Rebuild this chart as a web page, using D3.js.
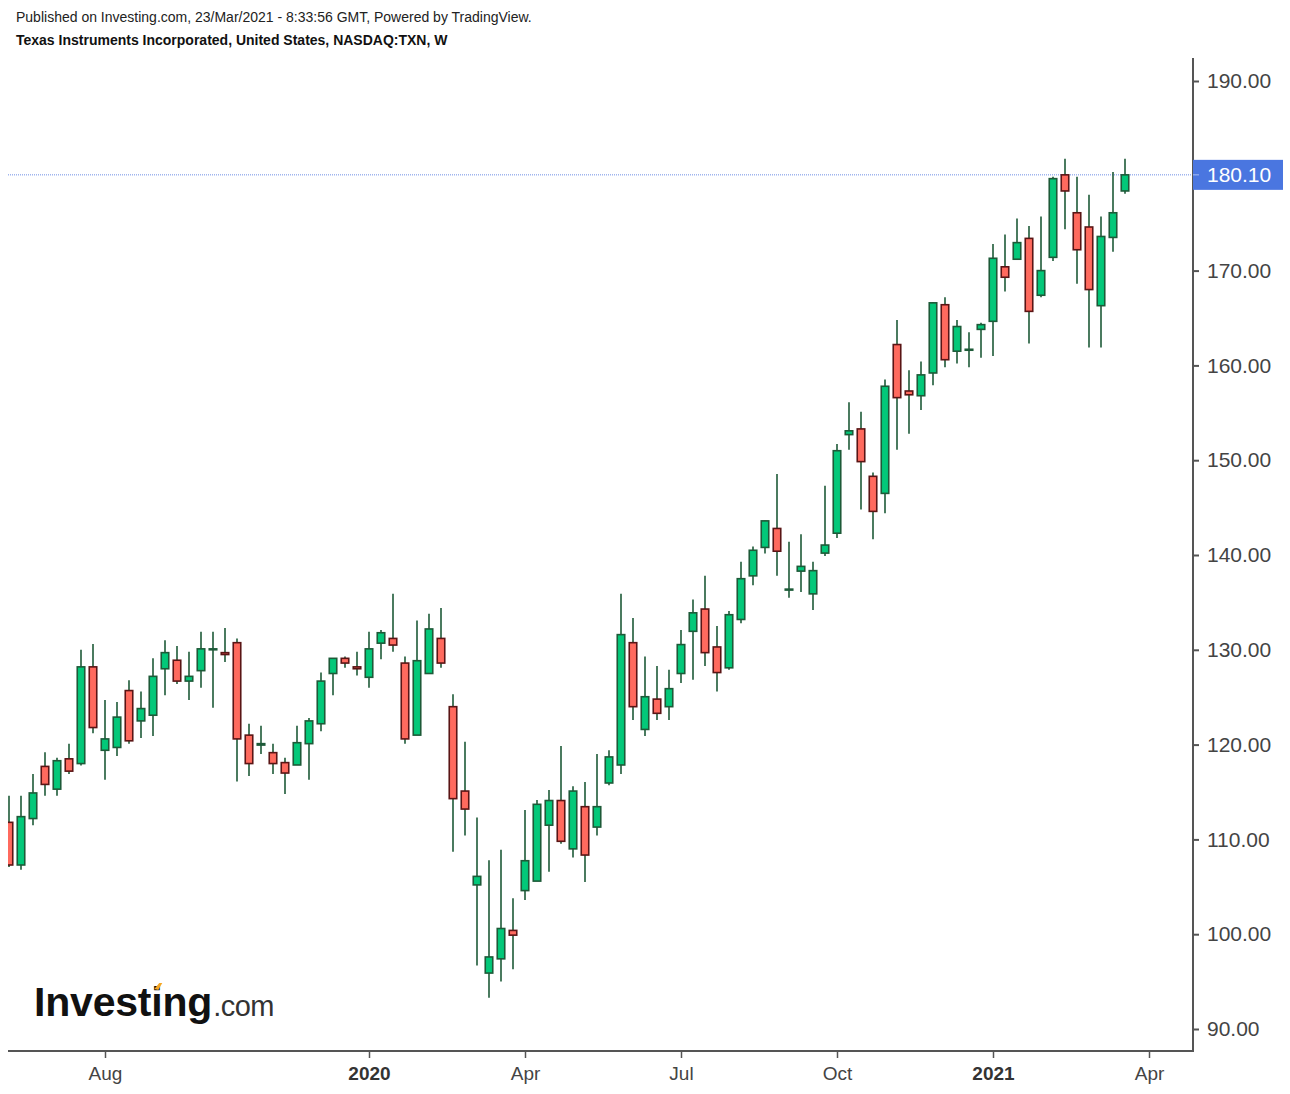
<!DOCTYPE html>
<html><head><meta charset="utf-8">
<script src="https://cdn.jsdelivr.net/npm/d3@7"></script>
<style>
body{margin:0;background:#fff;}
svg{display:block;font-family:"Liberation Sans",Arial,Helvetica,sans-serif;}
</style>
</head><body>
<svg id="chart" width="1290" height="1094"></svg>
<script>
// ---- data (weekly bars, TXN) ----
const firstWeek = "2019-06-10";
const opens  = [111.8,107.3,112.2,117.7,115.3,118.5,118.0,128.2,119.4,119.7,125.7,122.5,123.1,128.0,128.9,126.7,127.8,130.0,129.7,130.75,
                121.0,119.95,119.15,118.1,117.85,120.1,122.2,127.5,129.1,128.2,127.1,130.7,131.2,128.6,121.0,127.5,131.2,124.0,115.1,105.2,
                95.9,97.4,100.4,104.6,105.6,111.5,114.1,109.0,113.45,111.3,115.95,117.85,130.75,121.6,124.8,124.0,127.5,131.95,134.3,130.3,
                128.1,133.2,137.8,140.8,142.8,136.3,138.3,135.9,140.2,142.3,152.7,153.3,148.3,146.5,162.2,157.3,156.8,159.2,166.4,161.5,
                161.6,163.8,164.65,170.4,171.2,173.4,167.4,171.4,180.1,176.1,174.6,166.3,173.5,178.4];
const highs  = [114.6,114.6,116.9,119.2,118.6,120.1,130.0,130.6,124.7,124.5,126.8,125.6,129.1,131.0,130.4,129.8,131.9,131.9,132.3,131.2,
                122.2,122.0,120.1,118.6,122.0,122.8,127.6,129.1,129.3,129.8,131.9,132.1,135.9,129.3,133.1,133.8,134.4,125.3,120.3,112.3,
                107.8,108.9,103.8,113.1,114.15,115.2,119.85,115.6,116.05,119.0,119.4,135.9,133.35,129.3,128.3,127.9,132.1,135.3,137.8,132.5,
                134.1,139.3,140.9,143.6,148.55,141.4,142.2,139.3,147.3,151.7,156.1,155.1,148.7,158.5,164.8,159.5,160.4,166.7,167.2,164.8,
                163.5,164.5,172.8,173.8,175.5,174.7,175.7,179.9,181.8,179.9,178.0,175.7,180.4,181.8];
const lows   = [107.1,106.8,111.5,114.6,114.6,116.9,117.8,121.2,116.3,118.8,120.1,120.7,120.9,125.2,126.4,124.7,126.0,123.9,128.7,116.1,
                116.7,119.0,116.9,114.8,117.85,116.3,121.4,125.2,128.1,127.3,126.0,129.0,129.8,120.1,121.0,127.5,128.1,108.7,110.4,96.7,
                93.3,95.0,96.3,103.6,105.6,106.6,109.55,108.1,105.5,110.4,115.7,116.9,122.6,120.9,122.6,122.6,126.5,126.85,128.3,125.6,
                127.9,132.8,136.8,140.15,137.8,135.5,136.1,134.2,139.9,141.8,151.1,144.8,141.65,144.4,151.1,152.8,155.3,157.9,159.8,160.2,
                159.8,160.8,161.0,167.8,171.2,162.3,167.2,171.0,174.35,168.6,161.9,161.9,172.0,178.1];
const closes = [107.3,112.4,114.9,115.8,118.3,117.2,128.2,121.8,120.6,122.9,120.4,123.8,127.2,129.7,126.7,127.2,130.1,130.1,129.5,120.6,
                118.0,120.1,118.0,117.0,120.2,122.5,126.7,129.1,128.6,128.0,130.1,131.8,130.5,120.6,128.85,132.2,128.6,114.3,113.2,106.1,
                97.6,100.6,99.9,107.75,113.7,114.1,109.8,115.1,108.35,113.45,118.7,131.6,124.0,125.05,123.3,125.9,130.55,133.9,129.7,127.6,
                133.7,137.5,140.5,143.6,140.4,136.4,138.8,138.35,141.05,151.0,153.1,149.85,144.6,157.8,156.6,156.9,159.0,166.6,160.6,164.1,
                161.7,164.3,171.3,169.3,172.95,165.7,170.0,179.7,178.4,172.2,168.0,173.6,176.1,180.1];
const yTickValues = [90,100,110,120,130,140,150,160,170,180,190];
const xTickDates  = ["2019-08-05","2020-01-06","2020-04-06","2020-07-06","2020-10-05","2021-01-04","2021-04-05"];
const xTickLabels = ["Aug","2020","Apr","Jul","Oct","2021","Apr"];
const xTickBold   = [false,true,false,false,false,true,false];
const lastPrice = 180.10;
const headerLine1 = "Published on Investing.com, 23/Mar/2021 - 8:33:56 GMT, Powered by TradingView.";
const headerLine2 = "Texas Instruments Incorporated, United States, NASDAQ:TXN, W";

// ---- layout ----
const plotLeft = 8, plotRight = 1193, plotTop = 58, plotBottom = 1051;
const parse = d3.utcParse("%Y-%m-%d");
const t0 = parse(firstWeek);
const dates = opens.map((_, i) => d3.utcDay.offset(t0, 7 * i));
const bars = opens.map((o, i) => ({date: dates[i], o, h: highs[i], l: lows[i], c: closes[i]}));

const x = d3.scaleUtc().domain([dates[0], dates[dates.length - 1]]).range([9, 1125]);
const y = d3.scaleLinear().domain([90, 190]).range([1029, 81]);

const svg = d3.select("#chart");

// header
svg.append("text").attr("x", 16).attr("y", 22).attr("font-size", 14).attr("fill", "#222").text(headerLine1);
svg.append("text").attr("x", 16).attr("y", 45).attr("font-size", 14).attr("font-weight", "bold").attr("fill", "#111").text(headerLine2);

// clip
svg.append("defs").append("clipPath").attr("id", "plotclip")
  .append("rect").attr("x", plotLeft).attr("y", plotTop).attr("width", plotRight - plotLeft).attr("height", plotBottom - plotTop);

// logo
const logo = svg.append("g");
const lt = logo.append("text").attr("x", 34).attr("y", 1016).attr("font-size", 41).attr("font-weight", "bold")
  .attr("letter-spacing", -0.2).attr("fill", "#111").text("Investing");
const lw = lt.node().getComputedTextLength();
logo.append("text").attr("x", 34 + lw + 1).attr("y", 1016).attr("font-size", 29).attr("fill", "#333")
  .attr("letter-spacing", -0.5).text(".com");
try {
  const ext = lt.node().getExtentOfChar(6);
  logo.append("path")
    .attr("d", `M${ext.x + 3},${ext.y + 10} l5,-6 l3,0 l-4,7 z`)
    .attr("fill", "#f5a623");
} catch (e) {}

// last price dotted line
const plot = svg.append("g").attr("clip-path", "url(#plotclip)");
plot.append("line").attr("x1", plotLeft).attr("x2", plotRight).attr("y1", y(lastPrice)).attr("y2", y(lastPrice))
  .attr("stroke", "#6f8fe6").attr("stroke-width", 1).attr("stroke-dasharray", "1,1");

// candles
const upFill = "#03c879", upStroke = "#1d5a38", dnFill = "#ff6a5e", dnStroke = "#5a1515", wickColor = "#1d5a38";
const bw = 7.5;
const g = plot.selectAll("g.bar").data(bars).join("g").attr("class", "bar");
g.append("line")
  .attr("x1", d => x(d.date)).attr("x2", d => x(d.date))
  .attr("y1", d => y(d.h)).attr("y2", d => y(d.l))
  .attr("stroke", wickColor).attr("stroke-width", 1.6);
g.append("rect")
  .attr("x", d => x(d.date) - bw / 2).attr("width", bw)
  .attr("y", d => y(Math.max(d.o, d.c)))
  .attr("height", d => Math.max(Math.abs(y(d.o) - y(d.c)), 0.8))
  .attr("fill", d => d.c >= d.o ? upFill : dnFill)
  .attr("stroke", d => d.c >= d.o ? upStroke : dnStroke)
  .attr("stroke-width", 1.6);

// axes
const axisColor = "#555";
svg.append("line").attr("x1", plotRight).attr("x2", plotRight).attr("y1", plotTop).attr("y2", plotBottom + 1)
  .attr("stroke", axisColor).attr("stroke-width", 2);
svg.append("line").attr("x1", plotLeft).attr("x2", plotRight + 1).attr("y1", plotBottom).attr("y2", plotBottom)
  .attr("stroke", axisColor).attr("stroke-width", 2);

const yAxis = d3.axisRight(y).tickValues(yTickValues).tickSize(6).tickPadding(8).tickFormat(d3.format(".2f"));
const ya = svg.append("g").attr("transform", `translate(${plotRight},0)`).call(yAxis);
ya.select(".domain").remove();
ya.selectAll(".tick line").attr("stroke", axisColor).attr("stroke-width", 2);
ya.selectAll(".tick text").attr("font-size", 21).attr("fill", "#444").attr("font-family", "Liberation Sans, Arial, sans-serif");

const xAxis = d3.axisBottom(x).tickValues(xTickDates.map(parse)).tickSize(7).tickPadding(9)
  .tickFormat((d, i) => xTickLabels[i]);
const xa = svg.append("g").attr("transform", `translate(0,${plotBottom})`).call(xAxis);
xa.select(".domain").remove();
xa.selectAll(".tick line").attr("stroke", axisColor).attr("stroke-width", 1.5);
xa.selectAll(".tick text").attr("font-size", 19).attr("fill", (d, i) => xTickBold[i] ? "#333" : "#444")
  .attr("font-weight", (d, i) => xTickBold[i] ? "bold" : "normal")
  .attr("font-family", "Liberation Sans, Arial, sans-serif");

// last price label
const py = y(lastPrice);
svg.append("rect").attr("x", plotRight).attr("y", py - 15).attr("width", 90).attr("height", 30).attr("fill", "#4a76e0");
svg.append("line").attr("x1", plotRight).attr("x2", plotRight + 6).attr("y1", py).attr("y2", py).attr("stroke", "#a9bdf2").attr("stroke-width", 1);
svg.append("text").attr("x", plotRight + 14).attr("y", py + 7.5).attr("font-size", 21).attr("fill", "#fff")
  .text(d3.format(".2f")(lastPrice));
</script>
</body></html>
